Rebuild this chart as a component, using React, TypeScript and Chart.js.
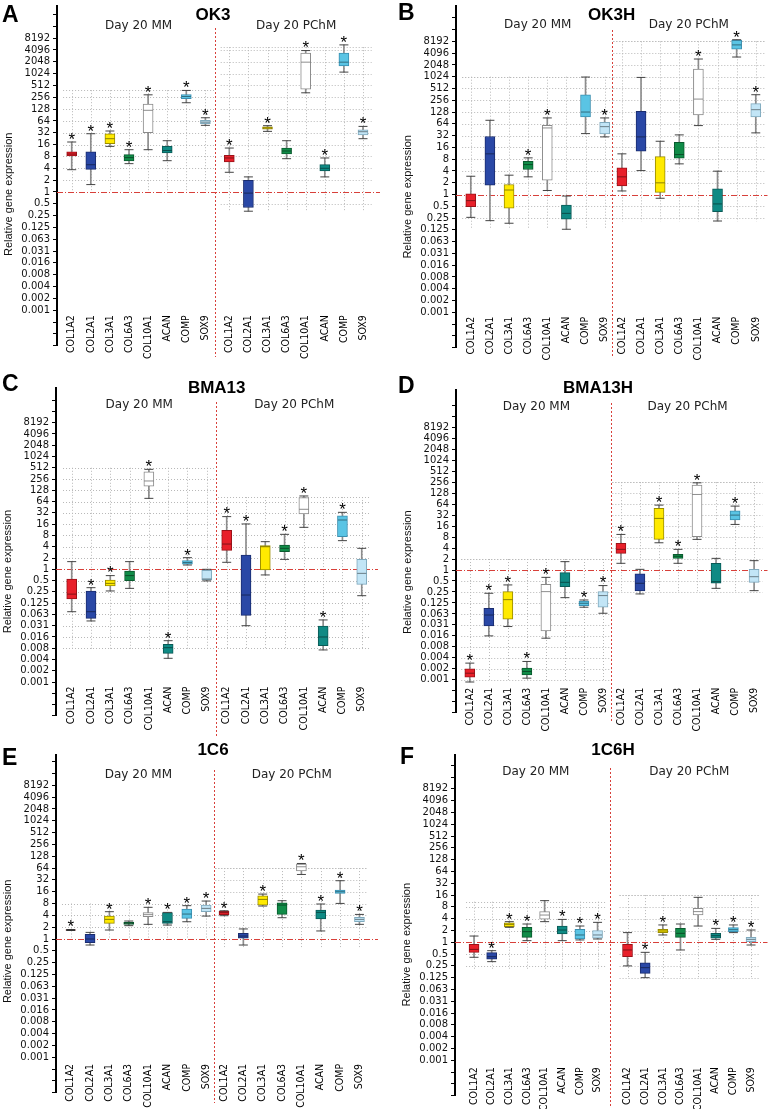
import React, { useEffect, useRef } from 'react';
import { Chart, registerables } from 'chart.js';
Chart.register(...registerables);

// ---------- shared labels ----------
const GENES = ['COL1A2', 'COL2A1', 'COL3A1', 'COL6A3', 'COL10A1', 'ACAN', 'COMP', 'SOX9'];
const GROUP_LABELS = ['Day 20 MM', 'Day 20 PChM'];
const Y_TITLE = 'Relative gene expression';
// y axis runs in log2 units: tick k is 2^k
const Y_TICK_VALUES = [-13, -12, -11, -10, -9, -8, -7, -6, -5, -4, -3, -2, -1, 0, 1, 2, 3, 4, 5, 6, 7, 8, 9, 10, 11, 12, 13, 14, 15];
const Y_TICK_LABELS = ['', '', '', '0.001', '0.002', '0.004', '0.008', '0.016', '0.031', '0.063', '0.125', '0.25', '0.5', '1', '2', '4', '8', '16', '32', '64', '128', '256', '512', '1024', '2048', '4096', '8192', '', ''];

// ---------- data: [min, q1, median, q3, max] in log2(relative expression) ----------
const OK3_MM_LOG2 = [[1.88, 3.04, 3.2, 3.38, 4.22], [0.62, 1.91, 2.3, 3.38, 4.92], [3.85, 4.08, 4.5, 4.92, 5.15], [2.39, 2.62, 2.9, 3.15, 3.57], [3.57, 5.0, 6.9, 7.43, 8.21], [2.64, 3.29, 3.5, 3.85, 4.33], [7.54, 7.88, 8.07, 8.24, 8.58], [5.63, 5.77, 5.9, 6.05, 6.27]];
const OK3_MM_SIG = [1, 1, 1, 1, 1, 0, 1, 1];
const OK3_PC_LOG2 = [[1.66, 2.53, 2.87, 3.09, 3.71], [-1.63, -1.32, -0.1, 0.98, 1.27], [5.12, 5.3, 5.4, 5.5, 5.6], [2.81, 3.21, 3.46, 3.71, 4.33], [8.38, 8.69, 10.97, 11.73, 11.95], [1.27, 1.77, 2.0, 2.31, 2.87], [10.13, 10.66, 10.97, 11.73, 12.43], [4.5, 4.81, 5.09, 5.26, 5.54]];
const OK3_PC_SIG = [1, 0, 1, 0, 1, 1, 1, 1];

const OK3H_MM_LOG2 = [[-1.94, -1.03, -0.52, 0.06, 1.55], [-2.22, 0.79, 3.45, 4.92, 6.3], [-2.44, -1.17, 0.38, 0.85, 1.64], [1.5, 2.12, 2.54, 2.82, 3.11], [0.34, 1.21, 5.65, 5.88, 6.5], [-2.95, -2.1, -1.6, -0.89, -0.13], [5.17, 6.58, 7.0, 8.47, 9.97], [4.89, 5.14, 5.76, 6.13, 6.5]];
const OK3H_MM_SIG = [0, 0, 0, 1, 1, 0, 0, 1];
const OK3H_PC_LOG2 = [[0.3, 0.72, 1.5, 2.26, 3.45], [2.03, 3.67, 4.89, 7.06, 9.94], [-0.32, 0.18, 0.99, 3.22, 4.52], [2.6, 3.08, 3.39, 4.43, 5.06], [5.85, 6.75, 8.1, 10.65, 11.5], [-2.25, -1.45, -0.8, 0.48, 1.98], [11.67, 12.34, 12.7, 13.08, 13.14], [5.23, 6.58, 7.2, 7.71, 8.47]];
const OK3H_PC_SIG = [0, 0, 0, 0, 1, 0, 1, 1];

const BMA13_MM_LOG2 = [[-3.76, -2.63, -2.2, -0.86, 0.68], [-4.58, -4.35, -3.76, -1.92, -1.63], [-1.92, -1.48, -1.25, -0.95, -0.56], [-1.69, -1.0, -0.56, -0.15, 0.68], [6.29, 7.38, 7.83, 8.65, 8.86], [-7.89, -7.45, -6.95, -6.65, -6.33], [0.38, 0.45, 0.6, 0.77, 1.03], [-1.03, -0.95, -0.86, -0.1, 0]];
const BMA13_MM_SIG = [0, 1, 1, 0, 1, 1, 1, 0];
const BMA13_PC_LOG2 = [[0.62, 1.68, 2.24, 3.46, 4.67], [-5.0, -4.08, -2.28, 1.27, 4.02], [-0.5, -0.06, 2.0, 2.1, 2.45], [0.88, 1.56, 1.86, 2.15, 3.1], [3.72, 4.9, 5.32, 6.35, 6.5], [-7.15, -6.77, -6.0, -5.03, -4.49], [2.54, 2.89, 4.37, 4.75, 5.05], [-2.34, -1.33, -0.36, 0.88, 1.86]];
const BMA13_PC_SIG = [1, 1, 0, 1, 1, 1, 1, 0];

const BMA13H_MM_LOG2 = [[-10.2, -9.76, -9.4, -9.0, -8.48], [-6.0, -5.09, -4.1, -3.48, -2.12], [-5.15, -4.48, -2.7, -1.97, -1.36], [-9.85, -9.55, -9.24, -8.94, -8.33], [-6.21, -5.55, -1.97, -1.3, -0.67], [-2.52, -1.52, -1.12, -0.24, 0.76], [-3.39, -3.24, -3.03, -2.82, -2.73], [-3.94, -3.39, -2.33, -1.97, -1.42]];
const BMA13H_MM_SIG = [1, 1, 1, 1, 1, 0, 1, 1];
const BMA13H_PC_LOG2 = [[0.61, 1.52, 1.88, 2.42, 3.24], [-2.18, -1.91, -1.21, -0.36, 0.06], [2.48, 2.79, 4.7, 5.61, 5.91], [0.61, 1.06, 1.25, 1.42, 1.88], [2.79, 3.03, 6.88, 7.73, 7.94], [-1.67, -1.21, -1.06, 0.61, 1.06], [4.15, 4.55, 5.0, 5.39, 5.82], [-1.88, -1.12, -0.61, 0.06, 0.85]];
const BMA13H_PC_SIG = [1, 0, 1, 1, 1, 0, 1, 0];

const C1C6_MM_LOG2 = [[0.72, 0.74, 0.76, 0.78, 0.8], [-0.51, -0.31, 0, 0.39, 0.56], [0.76, 1.32, 1.66, 1.94, 2.31], [1.13, 1.24, 1.32, 1.41, 1.52], [1.24, 1.89, 2.06, 2.23, 2.68], [1.18, 1.32, 1.46, 2.23, 2.25], [1.46, 1.75, 2.11, 2.54, 2.82], [1.94, 2.31, 2.59, 2.87, 3.21]];
const C1C6_MM_SIG = [1, 0, 1, 0, 1, 1, 1, 1];
const C1C6_PC_LOG2 = [[1.97, 2.06, 2.23, 2.34, 2.39], [-0.51, 0.06, 0.25, 0.48, 0.85], [2.79, 2.87, 3.35, 3.66, 3.8], [1.8, 2.08, 2.87, 3.07, 3.24], [5.46, 5.75, 6.11, 6.34, 6.39], [0.68, 1.69, 2.25, 2.45, 2.96], [3.01, 3.86, 4.0, 4.14, 4.93], [1.24, 1.46, 1.66, 1.83, 2.08]];
const C1C6_PC_SIG = [1, 0, 1, 0, 1, 1, 1, 1];

const C1C6H_MM_LOG2 = [[-1.27, -0.85, -0.6, -0.17, 0.53], [-1.64, -1.44, -1.22, -0.88, -0.71], [1.27, 1.32, 1.52, 1.66, 1.75], [0.14, 0.42, 0.9, 1.27, 1.55], [1.75, 1.97, 2.31, 2.6, 3.53], [0.14, 0.7, 1.04, 1.38, 1.94], [0.2, 0.28, 0.62, 1.1, 1.38], [0.28, 0.34, 0.62, 0.99, 1.69]];
const C1C6H_MM_SIG = [0, 1, 1, 1, 0, 1, 1, 1];
const C1C6H_PC_LOG2 = [[-2.0, -1.22, -0.65, -0.17, 0.82], [-3.0, -2.63, -2.15, -1.73, -0.85], [0.62, 0.82, 0.96, 1.1, 1.47], [-0.65, 0.42, 0.76, 1.18, 1.55], [1.38, 2.31, 2.6, 2.88, 3.81], [0.25, 0.34, 0.56, 0.76, 1.18], [0.82, 0.9, 1.07, 1.24, 1.47], [-0.23, 0.05, 0.25, 0.42, 1.04]];
const C1C6H_PC_SIG = [0, 1, 1, 0, 0, 1, 1, 1];

// ---------- styles ----------
const BOX_FILL = ['#e8202a', '#2a48a6', '#ffea00', '#108c48', '#ffffff', '#0f8a84', '#5ac4e4', '#c2e5f6'];
const BOX_EDGE = ['#9a1218', '#1a2c6e', '#9a8c00', '#0a5a2e', '#8a8a8a', '#0a5a56', '#3a8fb0', '#7fa9bd'];
const RED = '#d8403a';
const GRID = '#b8b8b8';
const SANS = '"Liberation Sans", Arial, sans-serif';
const NARROW = '"Liberation Sans Narrow", "Arial Narrow", "DejaVu Sans Condensed", "Liberation Sans", sans-serif';
const VERD = '"DejaVu Sans", Verdana, sans-serif';

type Layout = {
  left: number; top: number; width: number; height: number;
  axisX: number; areaTop: number; oneY: number; step: number;
  firstX: number; stepX: number; pcFirstX: number; rightX: number; dividerX: number;
  titleX: number; titleY: number; letterX: number; letterY: number; dayY: number;
  divTop: number; divBottom: number; labelPad: number;
  gridMM: [number, number]; gridPC: [number, number];
};
type Panel = { letter: string; title: string; mm: number[][]; mmSig: number[]; pc: number[][]; pcSig: number[]; L: Layout };

const PANELS: Panel[] = [
  { letter: 'A', title: 'OK3', mm: OK3_MM_LOG2, mmSig: OK3_MM_SIG, pc: OK3_PC_LOG2, pcSig: OK3_PC_SIG,
    L: { left: 0, top: 0, width: 386, height: 370, axisX: 57, areaTop: 5, oneY: 191.7, step: 11.846,
      firstX: 71.7, stepX: 19.1, pcFirstX: 229.3, rightX: 380, dividerX: 215,
      titleX: 213, titleY: 20, letterX: 2, letterY: 21.7, dayY: 29, divTop: 28, divBottom: 357, labelPad: 5,
      gridMM: [0, 8.6], gridPC: [-1.7, 12.24] } },
  { letter: 'B', title: 'OK3H', mm: OK3H_MM_LOG2, mmSig: OK3H_MM_SIG, pc: OK3H_PC_LOG2, pcSig: OK3H_PC_SIG,
    L: { left: 386, top: 0, width: 387, height: 370, axisX: 456, areaTop: 6, oneY: 194.5, step: 11.78,
      firstX: 471, stepX: 19.4, pcFirstX: 624.3, rightX: 772, dividerX: 614,
      titleX: 611.7, titleY: 20, letterX: 398, letterY: 20, dayY: 28, divTop: 30, divBottom: 357, labelPad: 4.5,
      gridMM: [-2.84, 10], gridPC: [-2.3, 13] } },
  { letter: 'C', title: 'BMA13', mm: BMA13_MM_LOG2, mmSig: BMA13_MM_SIG, pc: BMA13_PC_LOG2, pcSig: BMA13_PC_SIG,
    L: { left: 0, top: 370, width: 386, height: 370, axisX: 56, areaTop: 388, oneY: 569.3, step: 11.28,
      firstX: 71.7, stepX: 19.29, pcFirstX: 226.7, rightX: 378, dividerX: 216,
      titleX: 216.7, titleY: 392.7, letterX: 2, letterY: 391, dayY: 408, divTop: 402, divBottom: 737, labelPad: 4.5,
      gridMM: [-7.1, 9], gridPC: [-7.1, 6.4] } },
  { letter: 'D', title: 'BMA13H', mm: BMA13H_MM_LOG2, mmSig: BMA13H_MM_SIG, pc: BMA13H_PC_LOG2, pcSig: BMA13H_PC_SIG,
    L: { left: 386, top: 370, width: 387, height: 370, axisX: 456, areaTop: 390, oneY: 570, step: 10.98,
      firstX: 470, stepX: 19.3, pcFirstX: 623.3, rightX: 772, dividerX: 613.3,
      titleX: 598, titleY: 392.7, letterX: 398, letterY: 392.7, dayY: 409.5, divTop: 403, divBottom: 723, labelPad: 8,
      gridMM: [-10.1, 1], gridPC: [-2.1, 8] } },
  { letter: 'E', title: '1C6', mm: C1C6_MM_LOG2, mmSig: C1C6_MM_SIG, pc: C1C6_PC_LOG2, pcSig: C1C6_PC_SIG,
    L: { left: 0, top: 740, width: 386, height: 369, axisX: 56, areaTop: 755, oneY: 939, step: 11.82,
      firstX: 70.7, stepX: 19.35, pcFirstX: 224, rightX: 378, dividerX: 214,
      titleX: 213, titleY: 755, letterX: 2, letterY: 765, dayY: 778, divTop: 770, divBottom: 1103, labelPad: 6.7,
      gridMM: [0, 3], gridPC: [-0.7, 6] } },
  { letter: 'F', title: '1C6H', mm: C1C6H_MM_LOG2, mmSig: C1C6H_MM_SIG, pc: C1C6H_PC_LOG2, pcSig: C1C6H_PC_SIG,
    L: { left: 386, top: 740, width: 387, height: 369, axisX: 455, areaTop: 755, oneY: 942.3, step: 11.8,
      firstX: 474.3, stepX: 17.9, pcFirstX: 630, rightX: 772, dividerX: 612.7,
      titleX: 613, titleY: 755, letterX: 400, letterY: 764.3, dayY: 774.5, divTop: 768, divBottom: 1108, labelPad: 7,
      gridMM: [-2.3, 3.44], gridPC: [-3, 4] } },
];

function buildChart(canvas: HTMLCanvasElement, p: Panel) {
  const L = p.L;
  const yMax = (L.oneY - L.areaTop) / L.step;
  const areaBottom = L.oneY + 13 * L.step;
  const xMin = (L.axisX - L.firstX) / L.stepX;
  const xMax = (L.rightX - L.firstX) / L.stepX;
  const off = (L.pcFirstX - L.firstX) / L.stepX;
  const divPos = (L.dividerX - L.firstX) / L.stepX;
  const positions = [...GENES.map((_, i) => i), ...GENES.map((_, i) => off + i)];
  const stats = [...p.mm, ...p.pc];
  const sig = [...p.mmSig, ...p.pcSig];
  const fills = positions.map((_, i) => BOX_FILL[i % 8]);
  const edges = positions.map((_, i) => BOX_EDGE[i % 8]);

  const decor = {
    id: 'decor',
    beforeDatasetsDraw(chart: any) {
      const { ctx, chartArea } = chart;
      const xs = chart.scales.x, ys = chart.scales.y;
      ctx.save();
      ctx.lineWidth = 1;
      ctx.strokeStyle = GRID;
      ctx.setLineDash([1, 2]);
      const groups: [number, [number, number]][] = [[0, L.gridMM], [off, L.gridPC]];
      for (const [start, [b, t]] of groups) {
        const xl = xs.getPixelForValue(start - 0.45), xr = xs.getPixelForValue(start + 7.45);
        const yb = ys.getPixelForValue(b), yt = ys.getPixelForValue(t);
        ctx.beginPath();
        for (let k = Math.ceil(b); k <= Math.floor(t); k++) {
          if (k === 0) continue;
          const y = Math.round(ys.getPixelForValue(k)) + 0.5;
          ctx.moveTo(xl, y); ctx.lineTo(xr, y);
        }
        const ytop = Math.round(yt) + 0.5;
        ctx.moveTo(xl, ytop); ctx.lineTo(xr, ytop);
        for (let i = 0; i < 8; i++) {
          const x = Math.round(xs.getPixelForValue(start + i)) + 0.5;
          ctx.moveTo(x, yt); ctx.lineTo(x, yb);
        }
        ctx.stroke();
      }
      ctx.strokeStyle = RED;
      ctx.setLineDash([6, 2, 1, 2]);
      const y1 = Math.round(ys.getPixelForValue(0)) + 0.5;
      ctx.beginPath(); ctx.moveTo(chartArea.left, y1); ctx.lineTo(chartArea.right, y1); ctx.stroke();
      ctx.setLineDash([2, 2]);
      const xd = Math.round(xs.getPixelForValue(divPos)) + 0.5;
      ctx.beginPath(); ctx.moveTo(xd, L.divTop - L.top); ctx.lineTo(xd, L.divBottom - L.top); ctx.stroke();
      ctx.restore();
    },
    afterDraw(chart: any) {
      const { ctx } = chart;
      const xs = chart.scales.x, ys = chart.scales.y;
      ctx.save();
      ctx.fillStyle = '#000';
      ctx.textBaseline = 'alphabetic';
      ctx.textAlign = 'left';
      ctx.font = `bold 23px ${SANS}`;
      ctx.fillText(p.letter, L.letterX - L.left, L.letterY - L.top);
      ctx.textAlign = 'center';
      ctx.font = `bold 17px ${SANS}`;
      ctx.fillText(p.title, L.titleX - L.left, L.titleY - L.top);
      ctx.font = `12px ${VERD}`;
      ctx.fillStyle = '#222';
      ctx.fillText(GROUP_LABELS[0], xs.getPixelForValue(3.5), L.dayY - L.top);
      ctx.fillText(GROUP_LABELS[1], xs.getPixelForValue(off + 3.5), L.dayY - L.top);
      ctx.fillStyle = '#000';
      ctx.font = `17px ${SANS}`;
      positions.forEach((x, i) => {
        if (!sig[i]) return;
        const y = ys.getPixelForValue(stats[i][4]) - 6.5 + 0.55 * 17;
        ctx.fillText('*', xs.getPixelForValue(x), y);
      });
      ctx.translate(L.axisX - 48 - L.left, ys.getPixelForValue(-0.2));
      ctx.rotate(-Math.PI / 2);
      ctx.textBaseline = 'middle';
      ctx.font = `11px ${SANS}`;
      ctx.fillStyle = '#111';
      ctx.fillText(Y_TITLE, 0, 0);
      ctx.restore();
    },
  };

  return new Chart(canvas, {
    type: 'bar',
    data: {
      datasets: [
        { type: 'bar', data: positions.map((x, i) => ({ x, y: [stats[i][0], stats[i][4]] })) as any,
          backgroundColor: '#8c8c8c', borderWidth: 0, barThickness: 1, grouped: false, order: 3 } as any,
        { type: 'bar', data: positions.map((x, i) => ({ x, y: [stats[i][1], stats[i][3]] })) as any,
          backgroundColor: fills, borderColor: edges, borderWidth: 1, borderSkipped: false,
          barThickness: 10, grouped: false, order: 2 } as any,
        { type: 'scatter', data: positions.flatMap((x, i) => [{ x, y: stats[i][0] }, { x, y: stats[i][4] }]),
          pointStyle: 'line', radius: 4.5, borderColor: '#444', borderWidth: 1, order: 1 } as any,
        { type: 'scatter', data: positions.map((x, i) => ({ x, y: stats[i][2] })),
          pointStyle: 'line', radius: 4.5, borderColor: 'rgba(0,0,0,0.45)', borderWidth: 1, order: 0 } as any,
      ],
    },
    options: {
      responsive: false,
      animation: false,
      events: [],
      layout: { padding: { left: 0, top: L.areaTop - L.top, right: L.left + L.width - L.rightX, bottom: L.top + L.height - areaBottom } },
      plugins: { legend: { display: false }, tooltip: { enabled: false }, title: { display: false } },
      scales: {
        x: {
          type: 'linear', min: xMin, max: xMax, offset: false, bounds: 'data',
          position: { y: -10 } as any,
          grid: { display: false, drawTicks: false },
          border: { display: false },
          afterBuildTicks: (s: any) => { s.ticks = positions.map((v) => ({ value: v })); },
          afterFit: (s: any) => { s.paddingLeft = 0; s.paddingRight = 0; },
          ticks: { autoSkip: false, minRotation: 90, maxRotation: 90, padding: L.labelPad, color: '#000',
            font: { family: NARROW, size: 10.5 }, callback: (_v: any, i: number) => GENES[i % 8] },
        },
        y: {
          type: 'linear', min: -13, max: yMax, bounds: 'data',
          afterBuildTicks: (s: any) => { s.ticks = Y_TICK_VALUES.map((v) => ({ value: v })); },
          afterFit: (s: any) => { s.width = L.axisX - L.left; s.paddingTop = 0; s.paddingBottom = 0; },
          grid: { drawOnChartArea: false, drawTicks: true, tickLength: 4, color: '#000', lineWidth: 1 },
          border: { display: true, color: '#000', width: 2 },
          ticks: { autoSkip: false, padding: 3, color: '#111', font: { family: VERD, size: 10 },
            callback: (v: any) => Y_TICK_LABELS[Math.round(Number(v)) + 13] ?? '' },
        },
      },
    } as any,
    plugins: [decor],
  });
}

function PanelChart({ panel }: { panel: Panel }) {
  const ref = useRef<HTMLCanvasElement | null>(null);
  useEffect(() => {
    if (!ref.current) return;
    const chart = buildChart(ref.current, panel);
    return () => chart.destroy();
  }, [panel]);
  const L = panel.L;
  return (
    <canvas ref={ref} width={L.width} height={L.height}
      style={{ position: 'absolute', left: L.left, top: L.top, width: L.width, height: L.height }} />
  );
}

export default function App() {
  return (
    <div style={{ position: 'absolute', left: 0, top: 0, width: 773, height: 1109, background: '#fff', overflow: 'hidden' }}>
      {PANELS.map((p) => <PanelChart key={p.letter} panel={p} />)}
    </div>
  );
}
